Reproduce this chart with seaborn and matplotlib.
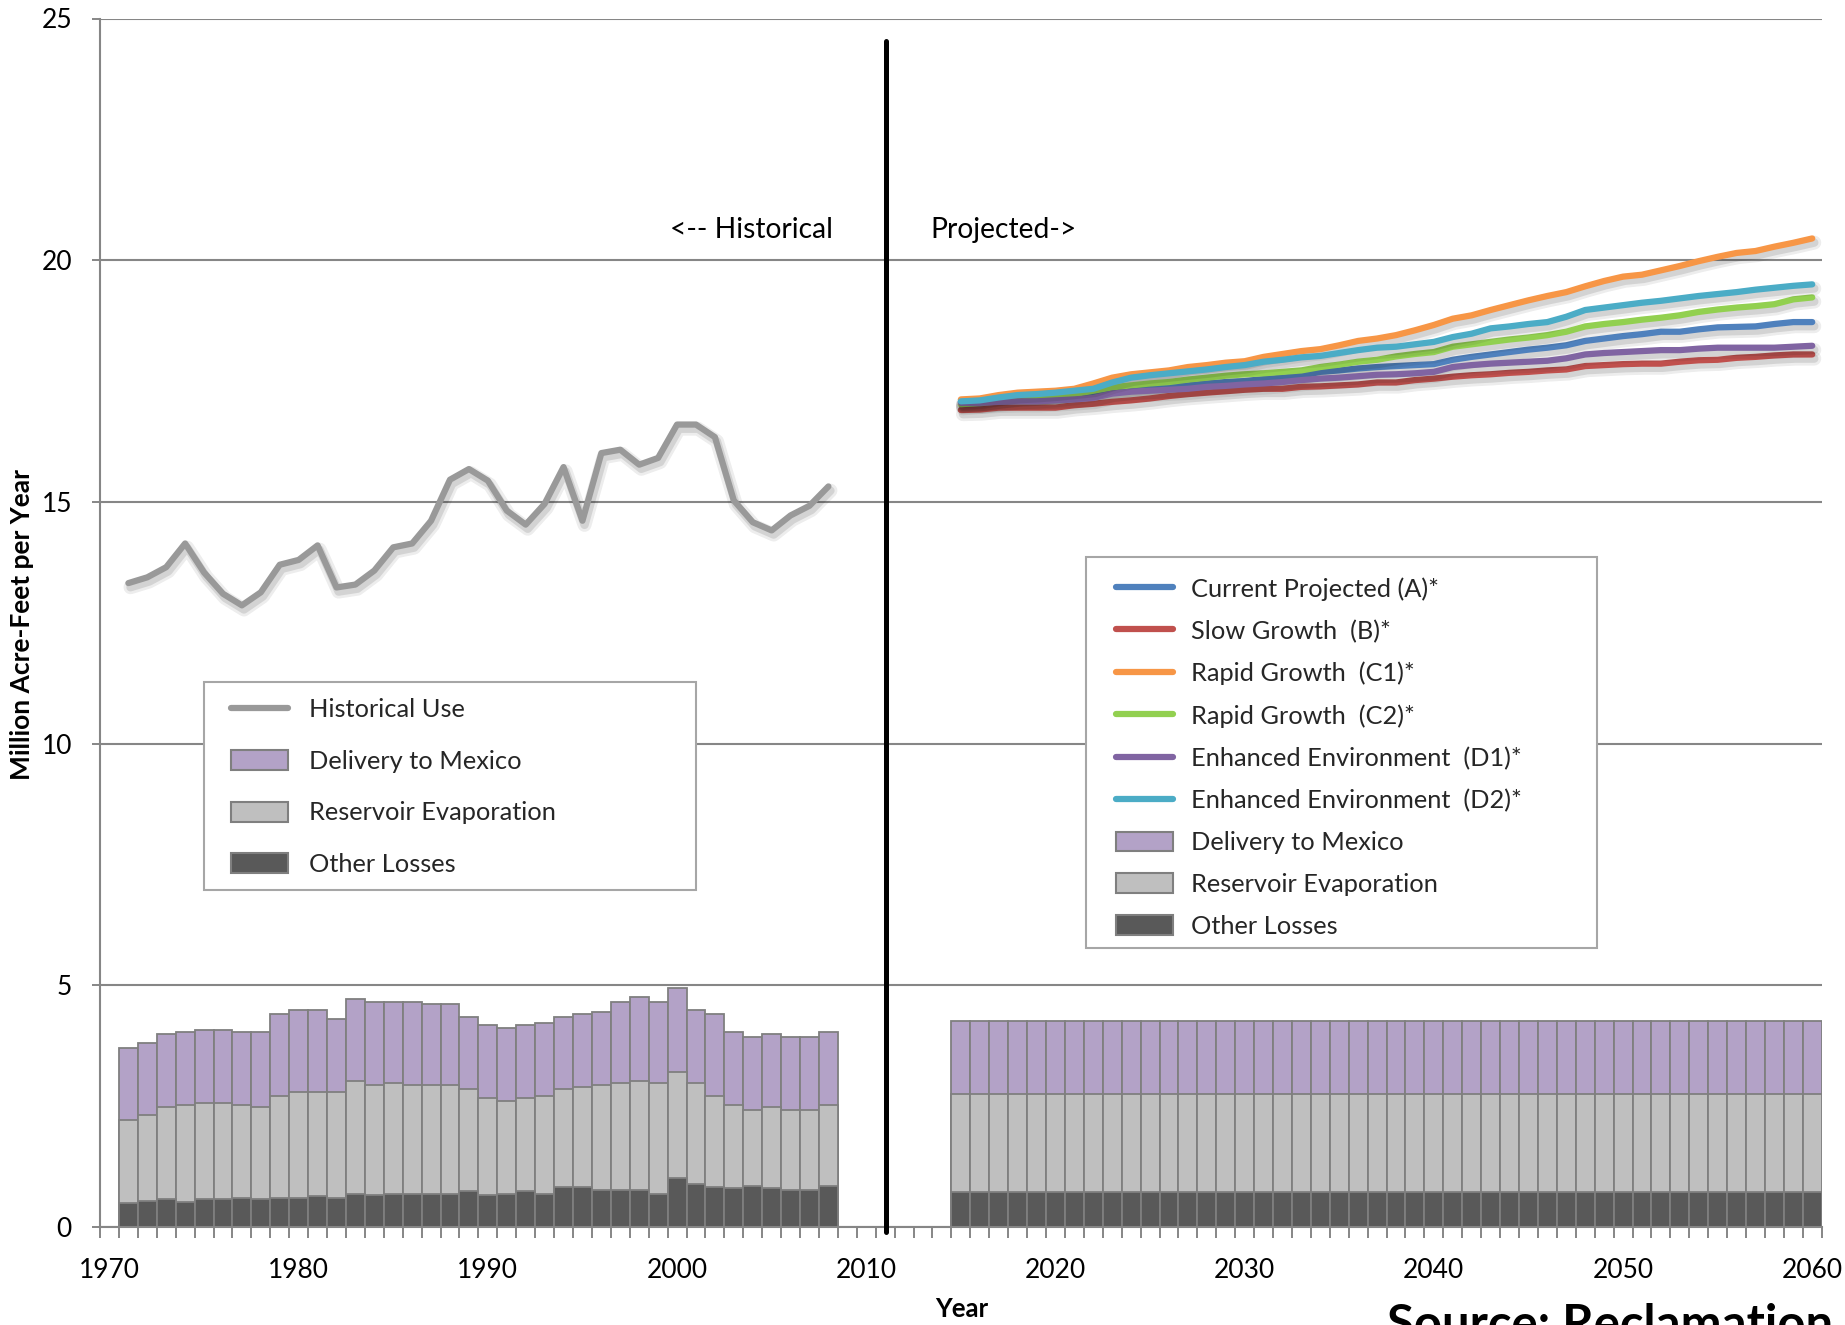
import numpy as np
import pandas as pd
import matplotlib
matplotlib.use("Agg")
import matplotlib.pyplot as plt
import matplotlib.patheffects as pe
from matplotlib.patches import Rectangle, Patch
from matplotlib.lines import Line2D
import seaborn as sns

# ---------------- data ----------------
hist_years = list(range(1971, 2009))
hist_use = [13.32, 13.44, 13.65, 14.14, 13.54, 13.10, 12.86, 13.13, 13.70, 13.80,
            14.10, 13.23, 13.29, 13.58, 14.06, 14.14, 14.61, 15.46, 15.68, 15.44,
            14.82, 14.53, 14.96, 15.72, 14.61, 16.01, 16.08, 15.77, 15.91, 16.60,
            16.60, 16.34, 15.03, 14.58, 14.41, 14.72, 14.92, 15.32]
hist_other = [0.49, 0.54, 0.57, 0.52, 0.57, 0.57, 0.61, 0.57, 0.61, 0.61,
              0.64, 0.61, 0.69, 0.66, 0.69, 0.69, 0.69, 0.69, 0.74, 0.66,
              0.69, 0.74, 0.69, 0.83, 0.83, 0.76, 0.76, 0.76, 0.69, 1.01,
              0.88, 0.83, 0.80, 0.85, 0.80, 0.76, 0.76, 0.85]
hist_evap = [1.72, 1.77, 1.92, 2.00, 2.00, 2.00, 1.91, 1.92, 2.09, 2.19,
             2.16, 2.19, 2.33, 2.27, 2.29, 2.24, 2.24, 2.24, 2.11, 2.01,
             1.92, 1.93, 2.02, 2.02, 2.07, 2.17, 2.22, 2.26, 2.29, 2.20,
             2.10, 1.88, 1.72, 1.58, 1.69, 1.67, 1.67, 1.67]
hist_mexico = [1.50, 1.50, 1.50, 1.51, 1.50, 1.50, 1.51, 1.54, 1.70, 1.68,
               1.68, 1.50, 1.69, 1.73, 1.68, 1.73, 1.69, 1.69, 1.49, 1.50,
               1.51, 1.50, 1.50, 1.50, 1.50, 1.51, 1.68, 1.74, 1.68, 1.73,
               1.50, 1.69, 1.51, 1.51, 1.50, 1.51, 1.51, 1.51]

proj_years = list(range(2015, 2061))
proj_other = [0.72] * 46
proj_evap = [2.04] * 46
proj_mexico = [1.50] * 46

scen_A = [17.07, 17.07, 17.10, 17.12, 17.14, 17.16, 17.17, 17.23, 17.28, 17.31, 17.34, 17.38,
          17.41, 17.45, 17.48, 17.50, 17.54, 17.57, 17.61, 17.69, 17.72, 17.76, 17.79,
          17.81, 17.83, 17.85, 17.94, 18.00, 18.05, 18.10, 18.15, 18.19, 18.24, 18.33, 18.38,
          18.43, 18.47, 18.52, 18.52, 18.57, 18.61, 18.62, 18.63, 18.68, 18.72, 18.72]
scen_B = [16.90, 16.91, 16.95, 16.95, 16.95, 16.95, 17.00, 17.03, 17.07, 17.10, 17.14, 17.19,
          17.23, 17.26, 17.29, 17.32, 17.34, 17.34, 17.38, 17.39, 17.41, 17.43, 17.47,
          17.47, 17.52, 17.55, 17.59, 17.62, 17.64, 17.67, 17.69, 17.72, 17.74, 17.81, 17.83,
          17.85, 17.86, 17.86, 17.90, 17.93, 17.94, 17.98, 18.00, 18.03, 18.05, 18.05]
scen_C1 = [17.12, 17.14, 17.21, 17.26, 17.28, 17.30, 17.34, 17.45, 17.57, 17.64, 17.68, 17.72,
           17.79, 17.83, 17.88, 17.91, 18.00, 18.06, 18.12, 18.16, 18.24, 18.33, 18.38,
           18.45, 18.55, 18.66, 18.79, 18.86, 18.97, 19.07, 19.17, 19.26, 19.34, 19.46, 19.57,
           19.66, 19.70, 19.79, 19.88, 19.98, 20.07, 20.15, 20.19, 20.28, 20.36, 20.45]
scen_C2 = [17.02, 17.05, 17.10, 17.14, 17.16, 17.19, 17.23, 17.30, 17.37, 17.41, 17.45, 17.48,
           17.53, 17.57, 17.61, 17.64, 17.66, 17.69, 17.72, 17.79, 17.84, 17.90, 17.94,
           18.01, 18.06, 18.10, 18.21, 18.26, 18.31, 18.36, 18.40, 18.45, 18.52, 18.63, 18.68,
           18.72, 18.77, 18.81, 18.86, 18.93, 18.98, 19.02, 19.05, 19.09, 19.19, 19.23]
scen_D1 = [17.05, 17.05, 17.07, 17.08, 17.08, 17.10, 17.12, 17.15, 17.24, 17.28, 17.30, 17.32,
           17.34, 17.38, 17.40, 17.43, 17.45, 17.48, 17.52, 17.55, 17.57, 17.60, 17.63,
           17.64, 17.66, 17.69, 17.79, 17.83, 17.86, 17.88, 17.90, 17.92, 17.97, 18.05, 18.08,
           18.10, 18.12, 18.14, 18.14, 18.17, 18.19, 18.19, 18.19, 18.19, 18.21, 18.23]
scen_D2 = [17.08, 17.10, 17.16, 17.21, 17.23, 17.26, 17.30, 17.34, 17.47, 17.57, 17.62, 17.66,
           17.70, 17.74, 17.79, 17.83, 17.90, 17.94, 17.99, 18.02, 18.08, 18.14, 18.19,
           18.21, 18.26, 18.31, 18.41, 18.48, 18.59, 18.63, 18.68, 18.72, 18.83, 18.97, 19.02,
           19.07, 19.12, 19.16, 19.21, 19.26, 19.30, 19.34, 19.39, 19.43, 19.47, 19.50]

scenario_names = ["Current Projected (A)*", "Slow Growth  (B)*", "Rapid Growth  (C1)*",
                  "Rapid Growth  (C2)*", "Enhanced Environment  (D1)*", "Enhanced Environment  (D2)*"]
scenario_values = [scen_A, scen_B, scen_C1, scen_C2, scen_D1, scen_D2]
scenario_colors = ["#4F81BD", "#C0504D", "#F79646", "#92D050", "#8064A2", "#4BACC6"]

x_tick_labels = [str(y) for y in range(1970, 2061, 10)]
y_ticks = [0, 5, 10, 15, 20, 25]

# ---------------- style ----------------
sns.set_theme(style="white")
plt.rcParams['font.family'] = ['Lato', 'DejaVu Sans']

C_MEX = "#B3A2C7"
C_EVAP = "#BFBFBF"
C_OTHER = "#595959"
C_EDGE = "#7F7F7F"
C_GRID = "#868686"
C_HIST = "#999999"

W, H = 1845, 1325
fig = plt.figure(figsize=(W / 100, H / 100), dpi=100)
ax_l, ax_r, ax_t, ax_b = 100, 1821.7, 18.5, 1227
ax = fig.add_axes([ax_l / W, 1 - ax_b / H, (ax_r - ax_l) / W, (ax_b - ax_t) / H])

def fx(px):
    return px / W

def fy(py):
    return 1 - py / H

# ---------------- bars ----------------
bars = pd.DataFrame({
    "year": hist_years + proj_years,
    "other": hist_other + proj_other,
    "evap": hist_evap + proj_evap,
    "mexico": hist_mexico + proj_mexico,
})
bars["lvl1"] = bars["other"]
bars["lvl2"] = bars["other"] + bars["evap"]
bars["lvl3"] = bars["lvl2"] + bars["mexico"]

for col, colr in [("lvl3", C_MEX), ("lvl2", C_EVAP), ("lvl1", C_OTHER)]:
    sns.barplot(data=bars, x="year", y=col, native_scale=True, width=1.0,
                color=colr, saturation=1, errorbar=None, edgecolor=C_EDGE,
                linewidth=1.3, ax=ax, zorder=2)

# ---------------- lines ----------------
hist_df = pd.DataFrame({"year": hist_years, "use": hist_use})
shadow = [pe.SimpleLineShadow(offset=(1.5, -3.0), shadow_color="k", alpha=0.08, linewidth=10),
          pe.SimpleLineShadow(offset=(1.5, -3.0), shadow_color="k", alpha=0.12, linewidth=6),
          pe.Normal()]
sns.lineplot(data=hist_df, x="year", y="use", color=C_HIST, linewidth=4.5, ax=ax,
             solid_capstyle="round", solid_joinstyle="round", path_effects=shadow, zorder=4)

proj_df = pd.DataFrame({
    "year": proj_years * len(scenario_names),
    "value": sum(scenario_values, []),
    "scenario": sum([[n] * len(proj_years) for n in scenario_names], []),
})
sns.lineplot(data=proj_df, x="year", y="value", hue="scenario", hue_order=scenario_names,
             palette=dict(zip(scenario_names, scenario_colors)), linewidth=4.5, ax=ax,
             legend=False, solid_capstyle="round", solid_joinstyle="round",
             path_effects=shadow, zorder=4)

# divider
ax.axvline(2011.03, ymin=-0.004, ymax=0.981, color="black", lw=3.6, clip_on=False, zorder=5)

# ---------------- axes ----------------
ax.set_xlim(1969.5, 2060.5)
ax.set_ylim(0, 25)
ax.set_xlabel("")
ax.set_ylabel("")
ax.set_xticks(list(range(1970, 2061, 10)))
ax.set_xticklabels(x_tick_labels)
ax.set_xticks(np.arange(1969.5, 2061, 1.0), minor=True)
ax.set_yticks(y_ticks)
ax.set_yticklabels([str(v) for v in y_ticks])
ax.tick_params(axis="x", which="major", length=0, pad=22.0, labelsize=19, labelcolor="black")
ax.tick_params(axis="x", which="minor", length=7.7, width=1.4, color=C_GRID, direction="out", bottom=True)
ax.tick_params(axis="y", which="major", length=5.8, width=1.4, color=C_GRID, direction="out",
               pad=14.4, labelsize=19, labelcolor="black", left=True)
ax.set_axisbelow(True)
ax.yaxis.grid(True, color=C_GRID, lw=1.5)
ax.xaxis.grid(False)
for s in ["top", "right"]:
    ax.spines[s].set_visible(False)
for s in ["left", "bottom"]:
    ax.spines[s].set_color(C_GRID)
    ax.spines[s].set_linewidth(1.5)

# annotations
ax.text(2008.26, 20.45, "<-- Historical", ha="right", va="baseline", fontsize=20.3, color="black")
ax.text(2013.37, 20.45, "Projected->", ha="left", va="baseline", fontsize=20.3, color="black")

fig.text(fx(22), fy(625), "Million Acre-Feet per Year", rotation=90, ha="center", va="center",
         fontsize=19, fontweight="bold", color="black")
fig.text(fx(962), fy(1317), "Year", ha="center", va="baseline", fontsize=18.5,
         fontweight="bold", color="black")
fig.text(fx(1387), fy(1340), "Source: Reclamation", ha="left", va="baseline", fontsize=35.3,
         fontweight="bold", color="black")

# ---------------- legends ----------------
def patch(c):
    return Patch(facecolor=c, edgecolor=C_EDGE, linewidth=1.5)

LFS = 18.3

# left legend box
fig.add_artist(Rectangle((fx(203.5), fy(890)), (696 - 203.5) / W, (890 - 681.5) / H,
                         transform=fig.transFigure, facecolor="white", edgecolor="#A6A6A6",
                         linewidth=1.5, zorder=4.9))
h_left = [Line2D([], [], color=C_HIST, lw=4.5), patch(C_MEX), patch(C_EVAP), patch(C_OTHER)]
l_left = ["Historical Use", "Delivery to Mexico", "Reservoir Evaporation", "Other Losses"]
fig.legend(h_left, l_left, loc="upper left", bbox_to_anchor=(fx(231), fy(698)),
           bbox_transform=fig.transFigure, frameon=False, borderpad=0, borderaxespad=0,
           handlelength=2.24, handleheight=0.83, handletextpad=0.83, labelspacing=1.13,
           fontsize=LFS)

# right legend box
fig.add_artist(Rectangle((fx(1086), fy(948.3)), (1597 - 1086) / W, (948.3 - 556.7) / H,
                         transform=fig.transFigure, facecolor="white", edgecolor="#A6A6A6",
                         linewidth=1.5, zorder=4.9))
h_right = [Line2D([], [], color=c, lw=4.5) for c in scenario_colors] + \
          [patch(C_MEX), patch(C_EVAP), patch(C_OTHER)]
l_right = scenario_names + ["Delivery to Mexico", "Reservoir Evaporation", "Other Losses"]
fig.legend(h_right, l_right, loc="upper left", bbox_to_anchor=(fx(1116), fy(577)),
           bbox_transform=fig.transFigure, frameon=False, borderpad=0, borderaxespad=0,
           handlelength=2.24, handleheight=0.83, handletextpad=0.71, labelspacing=0.745,
           fontsize=LFS)

fig.savefig("out.png", dpi=100, facecolor="white")
